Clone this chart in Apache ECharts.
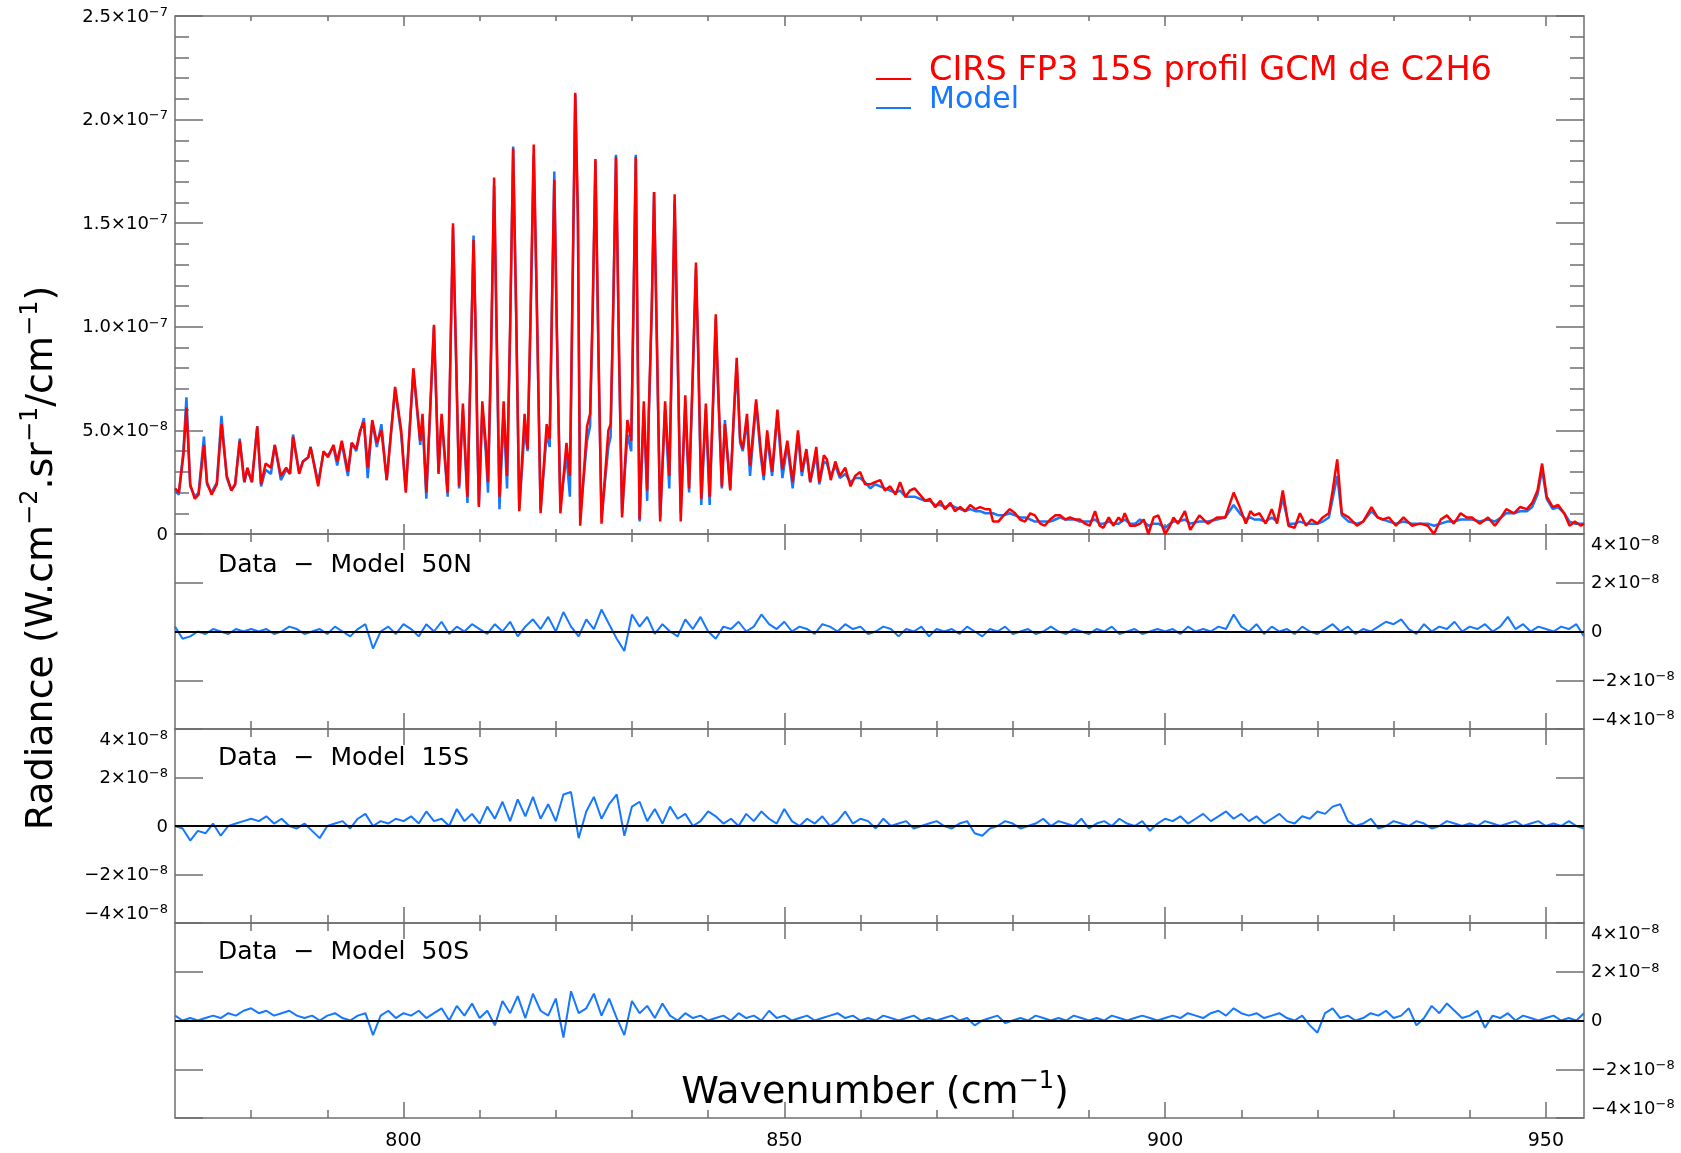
<!DOCTYPE html>
<html><head><meta charset="utf-8">
<script src="https://cdn.jsdelivr.net/npm/echarts@6/dist/echarts.min.js"></script>
<style>html,body{margin:0;padding:0;background:#fff}#c{width:1681px;height:1153px}</style>
</head><body><div id="c"></div>
<script>
// ---------- DATA (radiance in units of 1e-9 W.cm-2.sr-1/cm-1) ----------
const topWn = [770.0,770.5,771.1,771.5,772.0,772.6,773.1,773.8,774.2,774.8,775.5,776.1,776.8,777.4,777.9,778.5,779.1,779.5,780.1,780.8,781.3,781.9,782.6,783.1,783.9,784.6,785.1,785.5,786.3,786.8,787.5,787.8,788.8,789.5,790.1,790.8,791.3,791.9,792.7,793.2,793.8,794.3,794.8,795.3,795.9,796.5,797.1,797.8,798.9,799.7,800.3,801.3,802.2,802.5,803.0,804.0,804.6,805.0,805.8,806.5,807.3,807.8,808.4,809.2,809.45,809.7,809.9,810.35,810.8,811.1,811.5,811.9,812.2,812.6,813.15,813.6,814.0,814.4,814.8,815.2,815.9,816.3,816.7,817.1,817.5,818.0,818.8,819.2,819.5,819.8,820.1,820.6,821.4,821.85,822.2,822.55,822.9,823.2,824.1,824.5,824.85,825.2,825.6,826.0,826.9,827.2,827.55,827.9,828.3,828.7,829.4,829.9,830.2,830.5,830.75,831.0,831.55,832.0,832.2,832.6,832.9,833.3,833.7,834.35,834.9,835.3,835.6,836.0,836.4,837.0,837.5,838.0,838.4,838.7,839.1,839.7,840.2,840.7,841.0,841.3,841.8,842.2,842.9,843.4,843.75,844.2,844.55,845.1,845.5,846.3,846.9,847.3,847.75,848.4,849.1,849.75,850.4,851.1,851.8,852.3,852.9,853.4,854.2,854.6,855.2,855.6,856.1,856.7,857.3,858.0,858.7,859.3,859.95,860.6,861.3,861.9,862.6,863.2,863.9,864.6,865.2,865.9,866.5,867.1,867.8,868.5,869.1,869.8,870.5,871.1,871.8,872.4,873.1,873.75,874.4,875.1,875.7,876.4,877.0,877.4,878.1,878.8,879.6,880.3,880.96,881.6,882.3,882.9,883.6,884.2,884.9,885.6,886.2,886.9,887.5,888.2,888.8,889.5,890.1,890.8,891.4,891.9,892.6,893.2,893.9,894.3,894.7,895.4,896.1,896.7,897.2,897.8,898.5,899.1,900.0,900.65,901.1,901.7,902.6,903.3,904.5,905.6,906.8,907.9,909.0,909.8,910.6,911.2,911.7,912.4,913.2,914.0,914.7,915.45,916.2,917.0,917.7,918.5,919.2,920.0,920.7,921.5,922.0,922.6,923.2,924.1,925.2,926.0,927.1,927.9,928.6,929.4,930.3,931.3,932.4,933.5,934.5,935.3,936.2,937.0,937.9,938.8,939.6,940.3,941.3,942.4,943.3,944.1,944.8,945.8,946.6,947.5,948.2,948.9,949.5,950.1,950.9,951.6,952.4,953.1,953.8,954.6,955.0];
const cirsData = [22,20,38,61,24,17,19,43,25,19,24,53,28,21,24,45,25,32,25,52,24,34,32,43,28,32,29,47,29,35,37,42,23,40,37,43,35,45,30,44,41,50,54,32,55,44,50,26,71,50,20,80,45,58,20,101,29,58,20,150,23,63,18,142,104,49,13,64,44,25,90,172,106,18,64,28,100,186,106,11,58,41,110,188,114,10,53,46,110,171,106,10,44,28,120,213,155,4,52,58,110,181,90,5,50,53,110,182,89,8,55,45,110,182,89,7,64,21,58,110,165,89,6,64,28,100,164,89,6,67,22,80,131,89,17,63,18,70,106,73,23,53,21,60,85,46,41,58,33,65,41,28,50,30,60,31,45,25,50,30,41,25,42,25,38,36,26,35,28,32,23,28,30,24,24,25,26,21,23,19,25,18,21,22,19,16,17,13,16,12,15,11,13,11,14,12,13,12,12,6,6,9,12,10,7,6,10,9,5,4,7,9,9,7,8,7,7,5,4,11,4,3,8,4,8,6,10,4,4,5,7,0,8,9,0,4,8,5,11,2,9,5,8,8,20,13,5,11,9,10,5,12,5,21,4,3,10,4,7,5,8,10,21,36,10,8,4,6,13,8,7,8,4,8,4,5,4,0,7,9,5,10,8,8,5,8,4,8,12,10,13,12,15,21,34,18,13,14,10,4,6,4,5];
const modelData = [21,19,40,66,23,18,20,47,24,20,25,57,27,21,24,46,25,31,25,52,23,31,29,43,26,31,29,48,30,35,37,42,25,39,38,42,33,44,28,44,40,49,56,27,54,42,53,26,70,48,21,79,43,55,17,100,30,56,18,148,22,60,15,144,100,45,14,60,40,20,85,168,100,12,58,22,98,187,104,12,50,40,105,183,110,12,48,42,112,175,104,14,38,18,118,212,150,8,45,52,108,180,85,8,42,47,112,183,85,10,48,40,112,183,85,6,60,16,55,108,165,85,8,60,22,96,160,85,10,62,20,78,128,85,14,60,14,68,104,70,22,55,22,58,82,44,40,55,28,63,38,26,47,28,58,27,43,22,48,28,40,25,38,24,35,34,28,33,27,29,25,27,27,25,22,24,23,22,21,20,21,18,18,18,17,16,16,14,14,13,14,13,12,11,12,11,11,10,10,10,9,9,10,9,8,8,7,6,6,6,6,7,8,7,7,7,6,6,6,7,5,5,6,5,5,6,7,5,5,7,6,4,5,5,3,5,6,6,7,5,6,6,7,8,14,10,7,8,7,7,6,8,6,17,5,5,6,5,5,5,6,8,17,28,9,6,5,6,11,8,7,6,5,6,5,5,5,4,5,6,6,7,7,7,6,7,6,8,10,10,11,11,13,19,31,17,12,13,10,6,5,5,5];

// residuals (Data - Model), units of 1e-9, sampled every resStep cm-1 from resStart
const resStart = 770, resStep = 1;
const res50N = [2,-3,-2,0,-1,1,0,-1,1,0,1, 0,1,-1,0,2,1,-1,0,1,-1, 2,0,-2,1,3,-7,0,2,-1,3, 1,-2,3,0,4,-1,2,0,3,1, -1,3,0,4,-2,2,5,1,6,0, 8,2,-2,5,1,9,3,-3,-8,7, 2,6,-1,3,0,-2,5,1,6,0, -3,2,1,4,0,2,7,3,1,4, 0,2,1,-1,3,2,0,3,1,2, -1,0,2,1,-2,1,0,2,-2,1, 0,1,-1,2,0,-2,1,0,2,-1, 0,1,-1,0,2,0,-1,1,0,-1, 1,0,2,-1,0,1,-1,0,1,0, 1,-1,2,0,1,0,2,1,7,2, 0,3,-1,2,0,1,-1,2,0,-1, 1,3,0,2,-1,1,0,2,4,3, 5,1,-1,3,0,2,1,4,0,2, 1,3,0,2,6,1,3,0,2,1, 0,2,1,3,-2];
const res15S = [0,-1,-6,-2,-3,1,-4,0,1,2,3, 2,4,1,3,0,-1,1,-2,-5,0, 1,2,-1,3,5,0,2,1,3,2, 4,1,6,2,3,0,7,2,5,1, 8,3,10,2,11,4,12,3,9,2, 13,14,-5,6,12,3,9,13,-4,8, 10,2,7,1,8,3,5,0,2,6, 4,1,3,0,5,2,6,3,1,7, 2,0,3,1,4,0,2,6,1,3, 2,-1,3,0,1,2,-1,0,1,2, 0,-1,1,2,-3,-4,-1,0,2,1, -1,0,1,3,0,2,1,0,3,-1, 1,2,0,3,1,0,2,-2,1,3, 2,4,1,3,5,2,4,6,3,5, 2,4,1,3,5,2,1,4,3,6, 5,8,9,2,0,1,3,-1,0,2, 1,0,2,1,-1,0,2,1,0,1, 0,2,1,0,1,2,0,1,2,0, 1,0,2,0,-1];
const res50S = [2,0,1,0,1,2,1,3,2,4,5, 3,4,2,3,4,2,1,2,0,2, 3,1,0,2,3,-6,2,4,1,3, 2,4,1,3,5,0,6,2,7,1, 4,-2,8,3,10,1,11,4,2,9, -7,12,3,5,11,2,9,1,-6,8, 3,6,1,7,2,0,3,1,2,0, 1,2,0,3,1,2,0,4,1,2, 0,1,2,0,1,2,3,1,2,0, 1,0,2,1,0,1,2,0,1,0, 1,2,0,1,-2,0,1,2,-1,0, 1,0,2,1,0,1,0,2,1,0, 1,0,2,1,0,1,2,1,0,1, 2,1,3,2,1,3,4,2,5,3, 2,3,1,2,3,1,0,2,-2,-5, 3,5,1,2,0,1,3,2,4,1, 2,5,-2,1,6,3,7,4,1,2, 4,-3,2,1,3,0,2,1,0,1, 2,0,1,0,3];

// axis ticks / labels
const xMajor = [800, 850, 900, 950];
const xMinor = [780,790,810,820,830,840,860,870,880,890,910,920,930,940];
const topTickVals = [0, 50, 100, 150, 200, 250];
const topTickMant = ['0', '5.0×10', '1.0×10', '1.5×10', '2.0×10', '2.5×10'];
const topTickExp  = ['', '−8', '−7', '−7', '−7', '−7'];
const resTickVals = [-40, -20, 0, 20, 40];
const resTickMant = ['−4×10', '−2×10', '0', '2×10', '4×10'];
const resTickExp  = ['−8', '−8', '', '−8', '−8'];
const panelNames = ['Data  −  Model  50N', 'Data  −  Model  15S', 'Data  −  Model  50S'];
const legendNames = ['CIRS FP3 15S profil GCM de C2H6', 'Model'];

// ---------- STYLE ----------
const FONT = "'DejaVu Sans', 'Liberation Sans', sans-serif";
const RED = '#ff0000', BLUE = '#1677ff', AXC = '#6f6f6f';
const richTick = {
  m: {fontSize: 18, fontFamily: FONT, color: '#000', lineHeight: 20, verticalAlign: 'bottom'},
  e: {fontSize: 13, fontFamily: FONT, color: '#000', lineHeight: 13, padding: [0, 0, 10, 0], verticalAlign: 'top'}
};
function fmt(vals, mant, exp) {
  return function (v) {
    const i = vals.indexOf(Math.round(v));
    if (i < 0) return '';
    return exp[i] ? '{m|' + mant[i] + '}{e|' + exp[i] + '}' : '{m|' + mant[i] + '}';
  };
}

const grids = [
  {left: 175, right: 97, top: 16, height: 518},
  {left: 175, right: 97, top: 534, height: 195},
  {left: 175, right: 97, top: 729, height: 194},
  {left: 175, right: 97, top: 923, height: 195}
].map(g => Object.assign(g, {show: true, borderColor: AXC, borderWidth: 1.5, backgroundColor: 'transparent', containLabel: false, outerBoundsMode: 'none'}));

const xAxes = [];
for (let g = 0; g < 4; g++) {
  for (const pos of ['bottom', 'top']) {
    for (const major of [false, true]) {
      const isLabel = major && g === 3 && pos === 'bottom';
      xAxes.push({
        type: 'value', gridIndex: g, position: pos, min: 770, max: 955,
        axisLine: {show: false, onZero: false}, splitLine: {show: false},
        axisTick: {show: true, inside: true, length: g === 0 ? (major ? 10 : 5) : (major ? 16 : 8),
          customValues: major ? xMajor : xMinor, lineStyle: {color: AXC, width: 1.5}},
        axisLabel: {show: isLabel, customValues: xMajor, margin: 14, fontSize: 19, fontFamily: FONT, color: '#000'}
      });
    }
  }
}
const xIdx = g => g * 4;

const yAxes = [];
for (let g = 0; g < 4; g++) {
  for (const pos of ['left', 'right']) {
    const top = g === 0;
    const showLab = top ? pos === 'left' : ((g === 2) ? pos === 'left' : pos === 'right');
    const lab = {show: showLab, margin: 7, showMinLabel: true, showMaxLabel: true,
        formatter: top ? fmt(topTickVals, topTickMant, topTickExp) : fmt(resTickVals, resTickMant, resTickExp),
        rich: richTick};
    if (!top) { lab.verticalAlignMaxLabel = 'top'; lab.verticalAlignMinLabel = 'bottom'; }
    yAxes.push({
      type: 'value', gridIndex: g, position: pos,
      min: top ? 0 : -40, max: top ? 250 : 40, interval: top ? 50 : 20,
      axisLine: {show: false, onZero: false}, splitLine: {show: false},
      axisTick: {show: true, inside: true, length: 28, lineStyle: {color: AXC, width: 1.5}},
      minorTick: {show: top, splitNumber: 5, length: 14, lineStyle: {color: AXC, width: 1.5}},
      axisLabel: lab
    });
  }
}
const yIdx = g => g * 2;

const pairs = (xs, ys) => ys.map((y, i) => [xs[i], y]);
const resWn = res50N.map((_, i) => resStart + i * resStep);

const series = [
  {type: 'line', name: legendNames[1], xAxisIndex: xIdx(0), yAxisIndex: yIdx(0), data: pairs(topWn, modelData),
   showSymbol: false, symbol: 'none', lineStyle: {color: BLUE, width: 2.5}, itemStyle: {color: BLUE}, z: 2},
  {type: 'line', name: legendNames[0], xAxisIndex: xIdx(0), yAxisIndex: yIdx(0), data: pairs(topWn, cirsData),
   showSymbol: false, symbol: 'none', lineStyle: {color: RED, width: 2.5}, itemStyle: {color: RED}, z: 3}
];
[res50N, res15S, res50S].forEach((arr, k) => {
  const g = k + 1;
  series.push({
    type: 'line', name: panelNames[k], xAxisIndex: xIdx(g), yAxisIndex: yIdx(g), data: pairs(resWn, arr),
    showSymbol: false, symbol: 'none', lineStyle: {color: BLUE, width: 2}, itemStyle: {color: BLUE}, z: 3,
    markLine: {silent: true, symbol: ['none', 'none'], label: {show: false}, animation: false,
      lineStyle: {color: '#000', width: 2, type: 'solid'}, data: [{yAxis: 0}]}
  });
});

const supRich = (a, s, pad) => ({
  a: {fontSize: a, fontFamily: FONT, color: '#000', lineHeight: a + 4, verticalAlign: 'bottom'},
  s: {fontSize: s, fontFamily: FONT, color: '#000', lineHeight: s, padding: [0, 0, pad, 0], verticalAlign: 'top'}
});

const graphic = [
  {type: 'text', x: 40, y: 558, rotation: Math.PI / 2, silent: true,
   style: {text: '{a|Radiance (W.cm}{s|−2}{a|.sr}{s|−1}{a|/cm}{s|−1}{a|)}', rich: supRich(38, 24, 20), align: 'center', verticalAlign: 'middle'}},
  {type: 'text', x: 875, y: 1091, silent: true,
   style: {text: '{a|Wavenumber (cm}{s|−1}{a|)}', rich: supRich(38, 24, 20), align: 'center', verticalAlign: 'middle'}},
  {type: 'line', silent: true, shape: {x1: 876, y1: 79, x2: 911, y2: 79}, style: {stroke: RED, lineWidth: 2}},
  {type: 'line', silent: true, shape: {x1: 876, y1: 108, x2: 911, y2: 108}, style: {stroke: BLUE, lineWidth: 2}},
  {type: 'text', x: 929, y: 71, silent: true, style: {text: legendNames[0], fill: RED, fontSize: 33.5, fontFamily: FONT, align: 'left', verticalAlign: 'middle'}},
  {type: 'text', x: 929, y: 100, silent: true, style: {text: legendNames[1], fill: BLUE, fontSize: 30, fontFamily: FONT, align: 'left', verticalAlign: 'middle'}},
  {type: 'text', x: 218, y: 565, silent: true, style: {text: panelNames[0], fill: '#000', fontSize: 25, fontFamily: FONT, align: 'left', verticalAlign: 'middle'}},
  {type: 'text', x: 218, y: 758, silent: true, style: {text: panelNames[1], fill: '#000', fontSize: 25, fontFamily: FONT, align: 'left', verticalAlign: 'middle'}},
  {type: 'text', x: 218, y: 952, silent: true, style: {text: panelNames[2], fill: '#000', fontSize: 25, fontFamily: FONT, align: 'left', verticalAlign: 'middle'}}
];

const chart = echarts.init(document.getElementById('c'), null, {renderer: 'canvas'});
chart.setOption({
  animation: false,
  backgroundColor: '#fff',
  textStyle: {fontFamily: FONT},
  grid: grids,
  xAxis: xAxes,
  yAxis: yAxes,
  series: series,
  graphic: graphic
});
</script>
</body></html>
